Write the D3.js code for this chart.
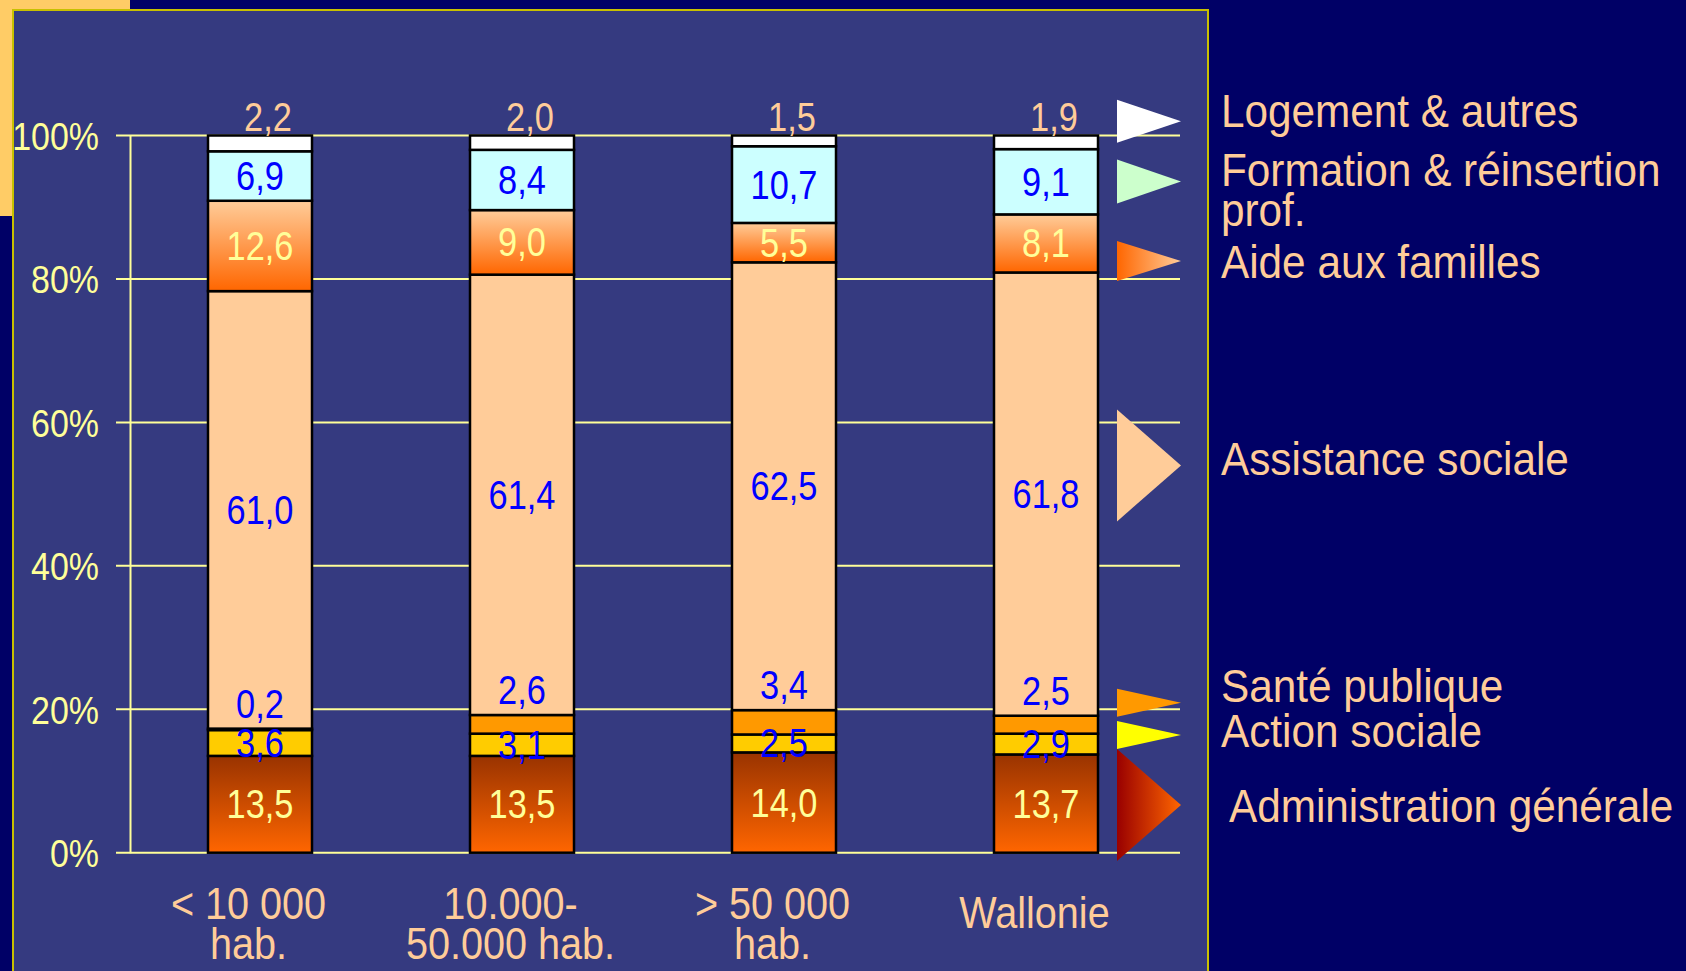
<!DOCTYPE html>
<html>
 <head>
  <meta charset="utf-8">
  <title>Dépenses sociales par taille de commune</title>
  <style>
  body {
   margin: 0;
   background-color: #000066;
  }
  svg {
   display: block;
  }
  text {
   font-family: "Liberation Sans", Arial, sans-serif;
  }
  </style>
 </head>

 <body>
  <script src="https://cdnjs.cloudflare.com/ajax/libs/d3/7.8.3/d3.min.js"></script>
  <script>
   // categories (two-line labels split on \n)
   const categories = ["< 10 000\nhab.", "10.000-\n50.000 hab.", "> 50 000\nhab.", "Wallonie"];
   // series, from bottom of the stack to the top
   const seriesNames = ["Administration générale", "Action sociale", "Santé publique", "Assistance sociale",
                        "Aide aux familles", "Formation & réinsertion\nprof.", "Logement & autres"];
   const adminValues     = [13.5, 13.5, 14.0, 13.7];
   const actionValues    = [3.6, 3.1, 2.5, 2.9];
   const santeValues     = [0.2, 2.6, 3.4, 2.5];
   const assistValues    = [61.0, 61.4, 62.5, 61.8];
   const aideValues      = [12.6, 9.0, 5.5, 8.1];
   const formationValues = [6.9, 8.4, 10.7, 9.1];
   const logementValues  = [2.2, 2.0, 1.5, 1.9];
   const tickValues = [0, 20, 40, 60, 80, 100];

   const seriesValues = [adminValues, actionValues, santeValues, assistValues, aideValues, formationValues, logementValues];
   const keys = d3.range(seriesNames.length);
   const table = categories.map((c, i) => {
    const row = {cat: c};
    keys.forEach(k => row[k] = seriesValues[k][i]);
    return row;
   });

   const w = 1686;
   const h = 971;
   const fills = ["url(#gAdmin)", "#ffcc00", "#ff9900", "#ffcc99", "url(#gAide)", "#ccffff", "#ffffff"];
   const labelColor = ["#ffff99", "#0000ff", "#0000ff", "#0000ff", "#ffff99", "#0000ff", "#ffcc99"];
   // legend: triangle tip (in % of the axis), half height, text baseline (in %) and text x shift
   const legendTip  = [6.65, 16.4, 20.9, 54.0, 82.5, 93.6, 102.0];
   const legendHalf = [56, 14, 14, 56, 20, 22, 21.5];
   const legendText = [4.3, 14.8, 21.0, 52.7, 80.2, 92.9, 101.2];
   const legendDx   = [8, 0, 0, 0, 0, 0, 0];
   const legendFill = ["url(#gAdminL)", "#ffff00", "#ff9900", "#ffcc99", "url(#gAideL)", "#ccffcc", "#ffffff"];

   const svg = d3.select("body")
                 .append("svg")
                 .attr("width", w)
                 .attr("height", h);

   const defs = svg.append("defs");
   function grad(id, x2, y2, stops) {
    const g = defs.append("linearGradient").attr("id", id)
                  .attr("x1", 0).attr("y1", 0).attr("x2", x2).attr("y2", y2);
    stops.forEach((s, i) => g.append("stop").attr("offset", i / (stops.length - 1)).attr("stop-color", s));
   }
   grad("gAdmin", 0, 1, ["#993300", "#ff6600"]);
   grad("gAide", 0, 1, ["#ffcc99", "#ff6600"]);
   grad("gAdminL", 1, 0, ["#990000", "#ff6600"]);
   grad("gAideL", 1, 0, ["#ff6600", "#ffcc99"]);

   // narrow text: the original uses a condensed face, so squeeze horizontally around the anchor
   function label(g, x, y, str, size, sx, color, anchor) {
    return g.append("text")
            .attr("transform", "translate(" + x + "," + y + ") scale(" + sx + ",1)")
            .attr("text-anchor", anchor)
            .attr("font-size", size)
            .attr("fill", color)
            .text(str);
   }

   // background decoration and panel
   svg.append("rect").attr("x", 0).attr("y", 0).attr("width", 130).attr("height", 216).attr("fill", "#ffcc66");
   svg.append("rect").attr("x", 13).attr("y", 10).attr("width", 1195).attr("height", 1000)
      .attr("fill", "#353a80").attr("stroke", "#c8c000").attr("stroke-width", 2);

   const xScale = d3.scalePoint()
                    .domain(categories)
                    .range([129, 1177])
                    .padding(0.5);
   const barW = 104;
   const yScale = d3.scaleLinear()
                    .domain([0, 100])
                    .range([852.7, 135.5]);

   // gridlines
   svg.append("g")
      .selectAll("line")
      .data(tickValues)
      .enter()
      .append("line")
      .attr("x1", 116)
      .attr("x2", 1180)
      .attr("y1", d => yScale(d))
      .attr("y2", d => yScale(d))
      .attr("stroke", "#ffff99")
      .attr("stroke-width", 2);

   const yAxis = d3.axisLeft(yScale)
                   .tickValues(tickValues)
                   .tickSize(0)
                   .tickFormat("");
   const yg = svg.append("g")
      .attr("id", "y-axis")
      .attr("transform", "translate(130,0)")
      .call(yAxis);
   yg.select(".domain").attr("stroke", "#ffff99").attr("stroke-width", 2);
   yg.selectAll(".tick").each(function(d) {
    label(d3.select(this), -31, 14, d + "%", 39, 0.87, "#ffff99", "end");
   });

   const stack = d3.stack().keys(keys).offset(d3.stackOffsetExpand);
   const layers = stack(table);

   const bars = svg.append("g");
   layers.forEach((layer, k) => {
    bars.selectAll(".s" + k)
        .data(layer)
        .enter()
        .append("rect")
        .attr("class", "bar s" + k)
        .attr("x", (d, i) => xScale(categories[i]) - barW / 2)
        .attr("y", d => yScale(d[1] * 100))
        .attr("width", barW)
        .attr("height", d => yScale(d[0] * 100) - yScale(d[1] * 100))
        .attr("fill", fills[k])
        .attr("stroke", "#000")
        .attr("stroke-width", 2.5);
   });

   // value labels
   const labels = svg.append("g");
   layers.forEach((layer, k) => {
    layer.forEach((d, i) => {
     let y;
     if (k === 6) y = yScale(100) - 19;
     else if (k === 2) y = yScale(d[1] * 100) - 25;
     else y = yScale((d[0] + d[1]) * 50);
     const x = xScale(categories[i]) + (k === 6 ? 8 : 0);
     label(labels, x, y + 14, d3.format(".1f")(seriesValues[k][i]).replace(".", ","), 40, 0.86, labelColor[k], "middle");
    });
   });

   // category labels
   const xAxis = d3.axisBottom(xScale).tickSize(0).tickFormat("");
   const xg = svg.append("g")
      .attr("id", "x-axis")
      .attr("transform", "translate(0," + yScale(0) + ")")
      .call(xAxis);
   xg.select(".domain").remove();
   xg.selectAll(".tick").each(function(d) {
    const lines = d.split("\n");
    const y0 = lines.length > 1 ? 66 : 75;
    lines.forEach((s, j) => label(d3.select(this), -12, y0 + j * 40, s, 45, 0.88, "#ffcc99", "middle"));
   });

   // legend
   const legend = svg.append("g");
   seriesNames.forEach((name, k) => {
    const tip = yScale(legendTip[k]);
    legend.append("path")
          .attr("d", d3.line()([[1117, tip - legendHalf[k]], [1181, tip], [1117, tip + legendHalf[k]]]) + "Z")
          .attr("fill", legendFill[k]);
    name.split("\n").forEach((s, j) => {
     label(legend, 1221 + legendDx[k], yScale(legendText[k]) + j * 40, s, 47, 0.9, "#ffcc99", "start");
    });
   });
  </script>
 </body>
</html>
